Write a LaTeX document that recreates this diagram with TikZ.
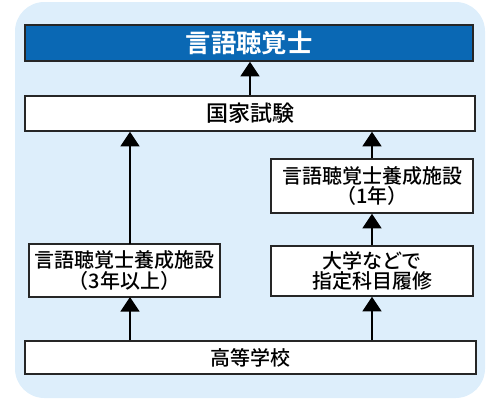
\documentclass[tikz,border=0pt]{standalone}
\usepackage{fontspec}
\setmainfont{Noto Sans CJK JP Medium}[BoldFont={Noto Sans CJK JP Bold}]
\usetikzlibrary{arrows.meta}
\definecolor{titleblue}{HTML}{0A68B4}
\definecolor{paleblue}{HTML}{DDEEFB}

\begin{document}
\begin{tikzpicture}[x=0.75pt, y=-0.75pt,
  box/.style={draw=black!85, line width=1.1pt, fill=white, inner sep=0pt, align=center, font=\fontsize{15}{15.5}\selectfont},
  arr/.style={-{Triangle[width=14pt,length=11pt]}, line width=2.2pt}]
\useasboundingbox (0,0) rectangle (500,400);
\fill [paleblue, rounded corners=22pt] (15,2) rectangle (485,398);

\node (T) at (249,43) [box, fill=titleblue, text=white, font=\fontsize{19}{19}\selectfont\bfseries, minimum width=336pt, minimum height=27pt] {言語聴覚士};
\node (E) at (250,113.5) [box, font=\fontsize{16.5}{16.5}\selectfont, minimum width=337.5pt, minimum height=26.25pt] {国家試験};
\node (R1) at (372,186) [box, minimum width=151.5pt, minimum height=40.5pt] {言語聴覚士養成施設\\（1年）};
\node (L) at (124.5,270.5) [box, minimum width=143.25pt, minimum height=39.75pt] {言語聴覚士養成施設\\（3年以上）};
\node (R2) at (372,271) [box, minimum width=151.5pt, minimum height=37.5pt] {大学などで\\指定科目履修};
\node (H) at (250.5,357.5) [box, minimum width=338.25pt, minimum height=24.75pt] {高等学校};
\coordinate (Lup) at (130,244);
\coordinate (Lin) at (130,297);

\draw [arr] (E.north) -> (E.north |- T.south);
\draw [arr] (Lup) -> (Lup |- E.south);
\draw [arr] (R1.north) -> (R1.north |- E.south);
\draw [arr] (R2.north) -> (R1.south);
\draw [arr] (H.north -| Lin) -> (Lin);
\draw [arr] (H.north -| R2) -> (R2.south);

\end{tikzpicture}
\end{document}
